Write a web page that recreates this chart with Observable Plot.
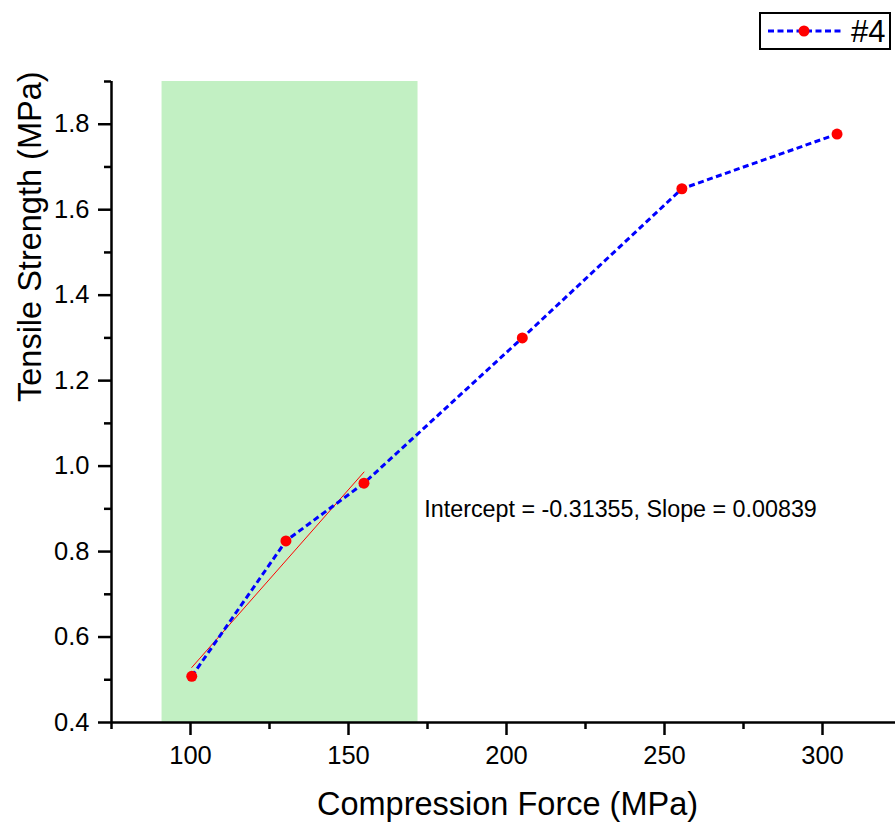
<!DOCTYPE html>
<html>
<head>
<meta charset="utf-8">
<script src="https://cdn.jsdelivr.net/npm/d3@7"></script>
<script src="https://cdn.jsdelivr.net/npm/@observablehq/plot@0.6"></script>
<style>
  html, body { margin: 0; padding: 0; background: #fff; }
  #wrap { position: relative; width: 895px; height: 823px; font-family: "Liberation Sans", Arial, sans-serif; }
  #legend { position: absolute; left: 759px; top: 12px; width: 128px; height: 34px; border: 2px solid #000; background: #fff; display: flex; align-items: center; }
  #legend span { font-size: 31px; margin-left: 5px; line-height: 1; }
</style>
</head>
<body>
<div id="wrap">
  <div id="chart"></div>
  <div id="legend">
    <svg width="80" height="34" style="margin-left:5px">
      <line x1="2" y1="17" x2="78" y2="17" stroke="#0000ff" stroke-width="3" stroke-dasharray="6,3.5"></line>
      <circle cx="38" cy="17" r="5.5" fill="#ff0000"></circle>
    </svg>
    <span>#4</span>
  </div>
</div>
<script>
// Data
const force = [100.4, 130.2, 154.9, 205.0, 255.5, 304.6];
const strength = [0.508, 0.825, 0.960, 1.300, 1.649, 1.777];
const seriesName = "#4";

// Linear fit over the first three points (values as printed on the chart)
const fitIntercept = -0.31355;
const fitSlope = 0.00839;
const fitRange = [100.4, 154.9];

// Shaded region in x
const shadeFrom = [91];
const shadeTo = [172];

const xDomain = [75, 323.1];
const yDomain = [0.4, 1.9];
const xMajor = [100, 150, 200, 250, 300];
const xMinor = [75, 125, 175, 225, 275, 325];
const yMajor = [0.4, 0.6, 0.8, 1.0, 1.2, 1.4, 1.6, 1.8];
const yMinor = [0.5, 0.7, 0.9, 1.1, 1.3, 1.5, 1.7, 1.9];

const xTitle = "Compression Force (MPa)";
const yTitle = "Tensile Strength (MPa)";
const fitText = `Intercept = ${fitIntercept}, Slope = ${fitSlope}`;
const fitTextPos = [{x: 174, y: 0.899}];

const points = force.map((f, i) => ({x: f, y: strength[i]}));
const fitLine = fitRange.map(x => ({x, y: fitIntercept + fitSlope * x}));
const shade = shadeFrom.map((a, i) => ({lo: a, hi: shadeTo[i]}));

const chart = Plot.plot({
  width: 895,
  height: 823,
  marginLeft: 111,
  marginRight: 0,
  marginTop: 81,
  marginBottom: 101,
  x: {domain: xDomain, label: null},
  y: {domain: yDomain, label: null},
  style: {fontFamily: "'Liberation Sans', Arial, sans-serif", fontSize: "25.5px", color: "#000", background: "#fff", overflow: "visible"},
  marks: [
    Plot.rect(shade, {x1: "lo", x2: "hi", y1: () => yDomain[0], y2: () => yDomain[1], fill: "#c2f0c3"}),
    Plot.line(fitLine, {x: "x", y: "y", stroke: "#ff0000", strokeWidth: 1}),
    Plot.line(points, {x: "x", y: "y", stroke: "#0000ff", strokeWidth: 3, strokeDasharray: "6,3.5", strokeLinecap: "butt"}),
    Plot.dot(points, {x: "x", y: "y", r: 5.5, fill: "#ff0000", stroke: "none"}),
    Plot.text(fitTextPos, {x: "x", y: "y", text: () => fitText, textAnchor: "start", fontSize: 23.3, lineAnchor: "middle"}),
    Plot.ruleY([yDomain[0]], {stroke: "#000", strokeWidth: 2.5}),
    Plot.ruleX([xDomain[0]], {stroke: "#000", strokeWidth: 2.5}),
    Plot.axisX({ticks: xMajor, tickSize: 13, tickPadding: 10, strokeWidth: 2.5, label: null, fontSize: 25.5, tickFormat: d3.format("d")}),
    Plot.axisX({ticks: xMinor, tickSize: 7, strokeWidth: 2.5, label: null, tickFormat: () => ""}),
    Plot.axisY({ticks: yMajor, tickSize: 13, tickPadding: 9, strokeWidth: 2.5, label: null, fontSize: 25.5, tickFormat: d3.format(".1f")}),
    Plot.axisY({ticks: yMinor, tickSize: 7, strokeWidth: 2.5, label: null, tickFormat: () => ""}),
    Plot.text([xTitle], {frameAnchor: "bottom", dx: 4, dy: 82, fontSize: 32.5, lineAnchor: "middle"}),
    Plot.text([yTitle], {frameAnchor: "left", dx: -81, rotate: -90, fontSize: 32.5, lineAnchor: "middle"})
  ]
});
document.getElementById("chart").appendChild(chart);
</script>
</body>
</html>
